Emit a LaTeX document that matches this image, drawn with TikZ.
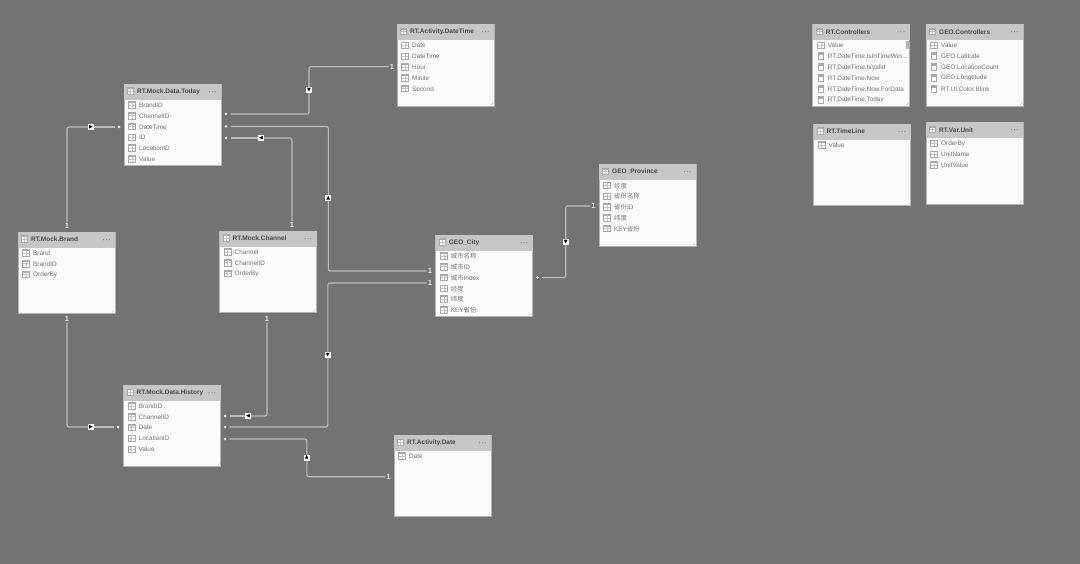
\documentclass[tikz,border=0pt]{standalone}
\usepackage{fontspec}
\setmainfont{Liberation Sans}
\newfontfamily\cjk{Noto Sans CJK SC}
\newfontfamily\symb{DejaVu Sans}

\definecolor{canvasgray}{HTML}{737373}
\definecolor{headgray}{HTML}{C6C6C6}
\definecolor{boxedge}{HTML}{B4B4B4}
\definecolor{bodywhite}{HTML}{FAFAFA}
\definecolor{relgray}{HTML}{BDBDBD}
\definecolor{titletext}{HTML}{484848}
\definecolor{rowtext}{HTML}{747474}
\definecolor{icongray}{HTML}{A8A8A8}
\definecolor{dotsgray}{HTML}{7C7C7C}

\tikzset{
	tablebox/.style={draw=boxedge, line width=0.8pt, fill=bodywhite, anchor=north west, minimum width=97pt, minimum height=81.5pt, inner sep=0pt, outer sep=0pt},
	tablehead/.style={fill=headgray, anchor=north west, minimum width=97pt, minimum height=16pt, inner sep=0pt, outer sep=0pt},
	tabletitle/.style={anchor=west, inner sep=0pt, yshift=-0.4pt, font=\bfseries\fontsize{6.5}{7}\selectfont, text=titletext},
	tabledots/.style={inner sep=0pt, font=\bfseries\fontsize{7}{7}\selectfont, text=dotsgray},
	rowlabel/.style={anchor=west, inner sep=0pt, yshift=-0.4pt, font=\fontsize{6.4}{7}\selectfont, text=rowtext},
	rowicon/.style={draw=icongray, line width=0.5pt, fill=white, minimum width=7pt, minimum height=6.5pt, inner sep=0pt,
		path picture={
			\fill[icongray] (path picture bounding box.north west) rectangle ([yshift=1.8pt]path picture bounding box.east);
			\draw[icongray!70, line width=0.3pt] (path picture bounding box.west) -- (path picture bounding box.east);
			\draw[icongray!70, line width=0.3pt] (path picture bounding box.north) -- (path picture bounding box.south);
		}},
	calcicon/.style={draw=icongray, line width=0.5pt, fill=white, minimum width=5pt, minimum height=7pt, inner sep=0pt,
		path picture={
			\fill[icongray] (path picture bounding box.north west) rectangle ([yshift=0.6pt]path picture bounding box.east);
		}},
	reldot/.style={circle, fill=white!92!black, minimum size=3pt, inner sep=0pt, outer sep=3pt},
	relone/.style={inner sep=1pt, font=\bfseries\fontsize{7.5}{8}\selectfont, text=white!92!black},
	relmark/.style={fill=white, minimum size=6pt, inner sep=0pt, outer sep=0pt, font=\symb\fontsize{5}{5}\selectfont, text=black},
	relline/.style={draw=relgray, line width=1.1pt, rounded corners=2pt},
}

% one table: [icon of rows after the first]{name}{x}{y}{title}{rows}
\newcommand{\erdtable}[6][rowicon]{
	\node[tablebox] (#2) at (#3,#4) {};
	\node[tablehead] (#2-head) at (#2.north west) {};
	\node[rowicon, minimum width=6pt] (#2-icon) at ({#3+6.5},{#4+7}) {};
	\node[tabletitle] (#2-title) at ({#3+13},{#4+7}) {#5};
	\node[tabledots] (#2-dots) at ({#3+88.7},{#4+8.8}) {·\kern0.6pt·\kern0.6pt·};
	\foreach \rowtext [count=\i] in {#6} {
		\ifnum\i=1 \def\iconstyle{rowicon}\else\def\iconstyle{#1}\fi
		\node[\iconstyle] (#2-icon\i) at ({#3+8},{#4+10.8*\i+10}) {};
		\node[rowlabel] (#2-row\i) at ({#3+15},{#4+10.8*\i+10}) {\rowtext};
	}
	\draw[icongray, line width=0.3pt] ({#3+94},{#4+80.5}) -- ({#3+96},{#4+78.5});
}

\begin{document}
\begin{tikzpicture}[x=1pt,y=-1pt]
	\fill[canvasgray] (0,0) rectangle (1080,564);
	\useasboundingbox (0,0) rectangle (1080,564);

	% tables
	\erdtable{today}{124}{84}{RT.Mock.Data.Today}{BrandID,ChannelID,DateTime,ID,LocationID,Value}
	\erdtable{brand}{18}{232}{RT.Mock.Brand}{Brand,BrandID,OrderBy}
	\erdtable{channel}{219.5}{231}{RT.Mock.Channel}{Channel,ChannelID,OrderBy}
	\erdtable{history}{123.5}{385}{RT.Mock.Data.History}{BrandID,ChannelID,Date,LocationID,Value}
	\erdtable{activitydate}{394}{435}{RT.Activity.Date}{Date}
	\erdtable{activitytime}{397}{24.5}{RT.Activity.DateTime}{Date,DateTime,Hour,Minite,Second}
	\erdtable{city}{435.7}{235}{GEO\_City}{{\cjk 城市名称},{\cjk 城市}ID,{\cjk 城市}Index,{\cjk 经度},{\cjk 纬度},KEY{\cjk 省份}}
	\erdtable{province}{599}{164.5}{GEO\_Province}{{\cjk 经度},{\cjk 省份名称},{\cjk 省份}ID,{\cjk 纬度},KEY{\cjk 省份}}
	\erdtable[calcicon]{controllers}{812.7}{24.5}{RT.Controllers}{Value,RT.DateTime.IsInTimeWin.{}.{}.,RT.DateTime.IsValid,RT.DateTime.Now,RT.DateTime.Now.ForData,RT.DateTime.Today}
	\erdtable[calcicon]{geocontrollers}{926}{24.5}{GEO.Controllers}{Value,GEO.Latitude,GEO.LocationCount,GEO.Longtitude,RT.UI.Color.Blink}
	\erdtable{timeline}{813.5}{124}{RT.TimeLine}{Value}
	\erdtable{varunit}{926}{122.5}{RT.Var.Unit}{OrderBy,UnitName,UnitValue}
	\fill[boxedge] (905.7,41) rectangle (909.3,49.5);

	% relationship ends
	\node[reldot] (dot1) at (226,114) {};
	\node[reldot] (dot2) at (226,126.5) {};
	\node[reldot] (dot3) at (226,138) {};
	\node[reldot] (dot4) at (119,127) {};
	\node[reldot] (dot5) at (118,427) {};
	\node[reldot] (dot6) at (225,416) {};
	\node[reldot] (dot7) at (225,427) {};
	\node[reldot] (dot8) at (225,439) {};
	\node[reldot] (dot9) at (537.5,277.7) {};
	\node[relone] (one1) at (392,66.7) {1};
	\node[relone] (one2) at (430,271) {1};
	\node[relone] (one3) at (292,225) {1};
	\node[relone] (one4) at (67,226) {1};
	\node[relone] (one5) at (67,319) {1};
	\node[relone] (one6) at (267,319) {1};
	\node[relone] (one7) at (430,283) {1};
	\node[relone] (one8) at (388.5,476.7) {1};
	\node[relone] (one9) at (593.5,206) {1};

	% direction marks
	\node[relmark] (mark1) at (309,90) {▼};
	\node[relmark] (mark2) at (328.3,198.5) {▲};
	\node[relmark] (mark3) at (261,138) {◀};
	\node[relmark] (mark4) at (91,127) {▶};
	\node[relmark] (mark5) at (91,427) {▶};
	\node[relmark] (mark6) at (248,416) {◀};
	\node[relmark] (mark7) at (327.8,355) {▼};
	\node[relmark] (mark8) at (306.8,457.5) {▲};
	\node[relmark] (mark9) at (565.7,242) {▼};

	% relationships
	\draw[relline] (dot1) -| (mark1);
	\draw[relline] (mark1) |- (one1);
	\draw[relline] (dot2) -| (mark2);
	\draw[relline] (mark2) |- (one2);
	\draw[relline] (dot3) -- (mark3);
	\draw[relline] (mark3) -| (one3);
	\draw[relline] (dot4) -- (mark4);
	\draw[relline] (mark4) -| (one4);
	\draw[relline] (dot5) -- (mark5);
	\draw[relline] (mark5) -| (one5);
	\draw[relline] (dot6) -- (mark6);
	\draw[relline] (mark6) -| (one6);
	\draw[relline] (dot7) -| (mark7);
	\draw[relline] (mark7) |- (one7);
	\draw[relline] (dot8) -| (mark8);
	\draw[relline] (mark8) |- (one8);
	\draw[relline] (dot9) -| (mark9);
	\draw[relline] (mark9) |- (one9);
\end{tikzpicture}
\end{document}
